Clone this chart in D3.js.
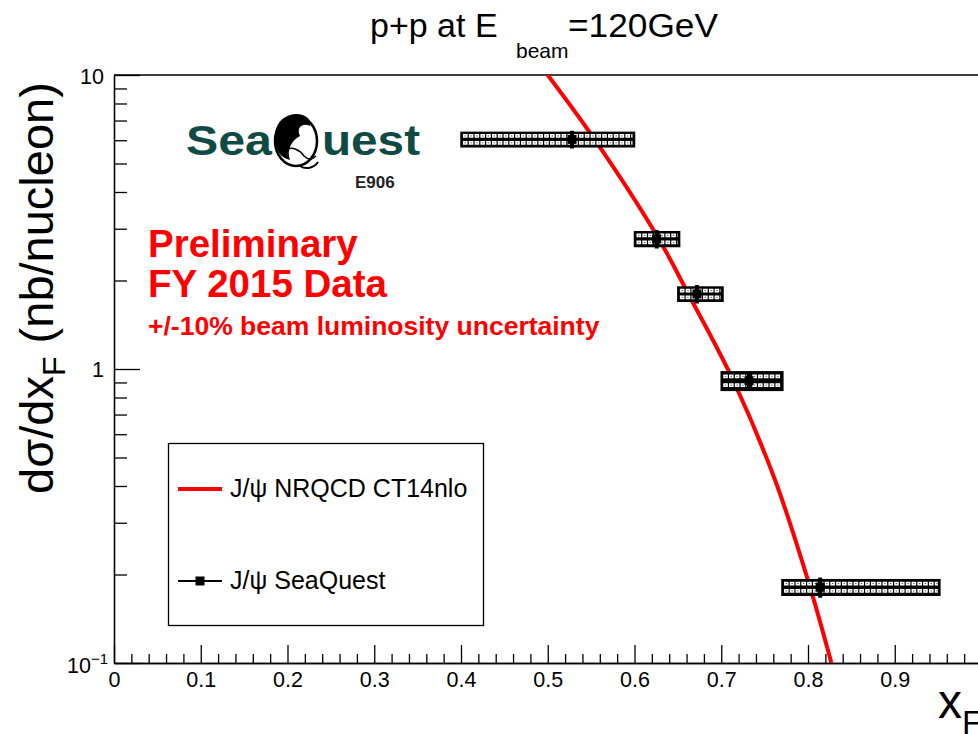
<!DOCTYPE html>
<html>
<head>
<meta charset="utf-8">
<script src="https://cdn.jsdelivr.net/npm/d3@7"></script>
<style>
  html, body { margin: 0; padding: 0; background: #fff; overflow: hidden; }
  svg { display: block; font-family: "Liberation Sans", Arial, Helvetica, sans-serif; }
</style>
</head>
<body>
<svg id="chart" width="978" height="734"></svg>
<script>
// J/psi cross section vs xF, SeaQuest measurement points
const dataXF      = [0.528, 0.6255, 0.672, 0.732, 0.814];
const dataXLo     = [0.400, 0.600, 0.650, 0.700, 0.770];
const dataXHi     = [0.600, 0.652, 0.702, 0.771, 0.952];
const dataSigma   = [6.04, 2.77, 1.80, 0.912, 0.181];
const dataStatErr = [0.42, 0.20, 0.13, 0.051, 0.0143];
const dataSysErr  = [0.34, 0.16, 0.10, 0.066, 0.011];

// NRQCD CT14nlo prediction
const theoryXF    = [0.500, 0.554, 0.628, 0.662, 0.714, 0.762, 0.800, 0.827];
const theorySigma = [10.0, 6.04, 2.77, 1.80, 0.912, 0.419, 0.191, 0.100];

const xMajorTicks = [0, 0.1, 0.2, 0.3, 0.4, 0.5, 0.6, 0.7, 0.8, 0.9, 1.0];
const xMinorTicks = d3.range(0, 50).map(i => +(i * 0.02).toFixed(2)).filter(v => Math.abs(v * 10 - Math.round(v * 10)) > 1e-6);
const yMajorTicks = [0.1, 1, 10];
const yMinorTicks = [0.2, 0.3, 0.4, 0.5, 0.6, 0.7, 0.8, 0.9, 2, 3, 4, 5, 6, 7, 8, 9];

const legendLabels = ["J/\u03C8 NRQCD CT14nlo", "J/\u03C8 SeaQuest"];

const svg = d3.select("#chart");
const plotLeft = 114, plotTop = 75, plotBottom = 663, plotRight = 981.5;

const x = d3.scaleLinear().domain([0, 1]).range([plotLeft, plotRight]);
const y = d3.scaleLog().domain([0.1, 10]).range([plotBottom, plotTop]);

svg.append("defs").append("clipPath").attr("id", "plotArea")
  .append("rect").attr("x", plotLeft).attr("y", plotTop)
  .attr("width", plotRight - plotLeft).attr("height", plotBottom - plotTop);

// frame
svg.append("line").attr("x1", plotLeft).attr("x2", plotRight).attr("y1", plotTop).attr("y2", plotTop)
  .attr("stroke", "#000").attr("stroke-width", 1.3);

// x axis
const gx = svg.append("g").attr("transform", `translate(0,${plotBottom})`);
gx.call(d3.axisBottom(x).tickValues(xMajorTicks).tickSizeInner(-18).tickSizeOuter(0).tickPadding(9)
  .tickFormat(d => d === 0 ? "0" : (d >= 1 ? "" : d3.format(".1f")(d))));
gx.append("g").call(d3.axisBottom(x).tickValues(xMinorTicks).tickSizeInner(-9).tickSizeOuter(0).tickFormat(""));
gx.selectAll("line").attr("stroke", "#000").attr("stroke-width", 1.3);
gx.selectAll("text").attr("font-size", 21.5).attr("fill", "#000")
  .attr("font-family", "Liberation Sans, Arial, sans-serif");

// y axis
const gy = svg.append("g").attr("transform", `translate(${plotLeft},0)`);
gy.call(d3.axisLeft(y).tickValues(yMajorTicks).tickSizeInner(-26).tickSizeOuter(0).tickFormat(""));
gy.append("g").call(d3.axisLeft(y).tickValues(yMinorTicks).tickSizeInner(-13).tickSizeOuter(0).tickFormat(""));
gy.selectAll("line").attr("stroke", "#000").attr("stroke-width", 1.3);
svg.selectAll("path.domain").attr("stroke", "#000").attr("stroke-width", 1.3);

// y tick labels (ROOT style)
svg.append("text").attr("x", plotLeft - 10).attr("y", y(10) + 9).attr("text-anchor", "end")
  .attr("font-size", 21.5).text("10");
svg.append("text").attr("x", plotLeft - 10).attr("y", y(1) + 8).attr("text-anchor", "end")
  .attr("font-size", 21.5).text("1");
const tm = svg.append("text").attr("x", plotLeft - 6).attr("y", y(0.1) + 10).attr("text-anchor", "end")
  .attr("font-size", 21.5);
tm.append("tspan").text("10");
tm.append("tspan").attr("dy", -9).attr("font-size", 15).text("\u22121");

// theory curve
const line = d3.line().x(d => x(d[0])).y(d => y(d[1])).curve(d3.curveCatmullRom.alpha(0.5));
svg.append("path")
  .datum(theoryXF.map((v, i) => [v, theorySigma[i]]))
  .attr("clip-path", "url(#plotArea)")
  .attr("d", line).attr("fill", "none").attr("stroke", "#ff0000").attr("stroke-width", 4);

// data points: systematic boxes, stat error bars, markers
const pts = dataXF.map((v, i) => ({
  x: v, lo: dataXLo[i], hi: dataXHi[i], s: dataSigma[i], st: dataStatErr[i], sy: dataSysErr[i]
}));
const gp = svg.append("g").attr("clip-path", "url(#plotArea)");
pts.forEach(p => {
  const x0 = x(p.lo), x1 = x(p.hi), yc = y(p.s);
  const yT = y(p.s + p.sy), yB = y(p.s - p.sy);
  const g = gp.append("g");
  g.append("rect").attr("x", x0).attr("y", yT).attr("width", x1 - x0).attr("height", yB - yT)
    .attr("fill", "#000").attr("stroke", "#000").attr("stroke-width", 1.5);
  const rowOff = (yB - yT) / 4.2;
  [yc - rowOff, yc + rowOff].forEach(ry => {
    g.append("line").attr("x1", x0 + 2).attr("x2", x1 - 2).attr("y1", ry).attr("y2", ry)
      .attr("stroke", "#fff").attr("stroke-width", 3.8).attr("stroke-dasharray", "4.6 1.2");
    g.append("line").attr("x1", x0 + 2).attr("x2", x1 - 2).attr("y1", ry).attr("y2", ry)
      .attr("stroke", "#555").attr("stroke-width", 1).attr("stroke-dasharray", "1.4 4.4")
      .attr("stroke-dashoffset", -1.6);
  });
  g.append("line").attr("x1", x0).attr("x2", x1).attr("y1", yc).attr("y2", yc)
    .attr("stroke", "#000").attr("stroke-width", 2);
  g.append("line").attr("x1", x(p.x)).attr("x2", x(p.x)).attr("y1", y(p.s + p.st)).attr("y2", y(p.s - p.st))
    .attr("stroke", "#000").attr("stroke-width", 4);
  g.append("rect").attr("x", x(p.x) - 4.5).attr("y", yc - 4.5).attr("width", 9).attr("height", 9)
    .attr("fill", "#000");
});

// title
const title = svg.append("text").attr("y", 37).attr("font-size", 34).attr("fill", "#000");
title.append("tspan").attr("x", 370).text("p+p at E");
title.append("tspan").attr("x", 516).attr("dy", 21).attr("font-size", 21).text("beam");
title.append("tspan").attr("x", 568).attr("dy", -21)
  .attr("textLength", 150).attr("lengthAdjust", "spacingAndGlyphs").text("=120GeV");

// y axis title
const yt = svg.append("text").attr("transform", `translate(53,${288}) rotate(-90)`)
  .attr("text-anchor", "middle").attr("font-size", 47).attr("fill", "#000");
yt.append("tspan").text("d\u03C3/dx");
yt.append("tspan").attr("dy", 12).attr("font-size", 32).text("F");
yt.append("tspan").attr("dy", -12).text(" (nb/nucleon)");

// x axis title
const xt = svg.append("text").attr("x", 938).attr("y", 718).attr("font-size", 48).attr("fill", "#000");
xt.append("tspan").text("x");
xt.append("tspan").attr("dy", 16).attr("font-size", 33).text("F");

// logo
const logo = svg.append("g");
const teal = "#0f4a44";
logo.append("text").attr("x", 186).attr("y", 155).attr("font-size", 42).attr("font-weight", "bold")
  .attr("fill", teal).attr("textLength", 86).attr("lengthAdjust", "spacingAndGlyphs").text("Sea");
logo.append("text").attr("x", 322).attr("y", 155).attr("font-size", 42).attr("font-weight", "bold")
  .attr("fill", teal).attr("textLength", 98).attr("lengthAdjust", "spacingAndGlyphs").text("uest");
// stylised Q emblem
logo.append("ellipse").attr("cx", 296).attr("cy", 141).attr("rx", 21).attr("ry", 25)
  .attr("fill", "#fff").attr("stroke", "#000").attr("stroke-width", 2.5);
logo.append("path")
  .attr("d", "M276,146 C272,128 280,115 296,114 C306,114 312,120 310,126 C302,122 296,128 300,136 C292,140 286,150 290,160 C282,158 278,153 276,146 Z")
  .attr("fill", "#000");
logo.append("path")
  .attr("d", "M286,150 C292,146 300,150 304,156 C308,160 312,160 316,156")
  .attr("fill", "none").attr("stroke", "#000").attr("stroke-width", 1.5);
logo.append("path")
  .attr("d", "M300,166 C306,170 314,168 318,162")
  .attr("fill", "none").attr("stroke", "#000").attr("stroke-width", 2);
logo.append("text").attr("x", 355).attr("y", 188).attr("font-size", 17).attr("font-weight", "bold")
  .attr("fill", "#222").text("E906");

// preliminary labels
svg.append("text").attr("x", 148).attr("y", 257).attr("font-size", 38.5).attr("font-weight", "bold")
  .attr("fill", "#ff0000").text("Preliminary");
svg.append("text").attr("x", 148).attr("y", 297).attr("font-size", 38.5).attr("font-weight", "bold")
  .attr("fill", "#ff0000").text("FY 2015 Data");
svg.append("text").attr("x", 148).attr("y", 335).attr("font-size", 26.5).attr("font-weight", "bold")
  .attr("fill", "#ff0000").text("+/-10% beam luminosity uncertainty");

// legend
const lg = svg.append("g");
lg.append("rect").attr("x", 168.5).attr("y", 443.5).attr("width", 315).attr("height", 182)
  .attr("fill", "#fff").attr("stroke", "#000").attr("stroke-width", 1.3);
lg.append("line").attr("x1", 178).attr("x2", 222).attr("y1", 489).attr("y2", 489)
  .attr("stroke", "#ff0000").attr("stroke-width", 4);
lg.append("text").attr("x", 230).attr("y", 497).attr("font-size", 25).text(legendLabels[0]);
lg.append("line").attr("x1", 178).attr("x2", 222).attr("y1", 581).attr("y2", 581)
  .attr("stroke", "#000").attr("stroke-width", 2);
lg.append("rect").attr("x", 195.5).attr("y", 576.5).attr("width", 9).attr("height", 9).attr("fill", "#000");
lg.append("text").attr("x", 230).attr("y", 589).attr("font-size", 25).text(legendLabels[1]);
</script>
</body>
</html>
